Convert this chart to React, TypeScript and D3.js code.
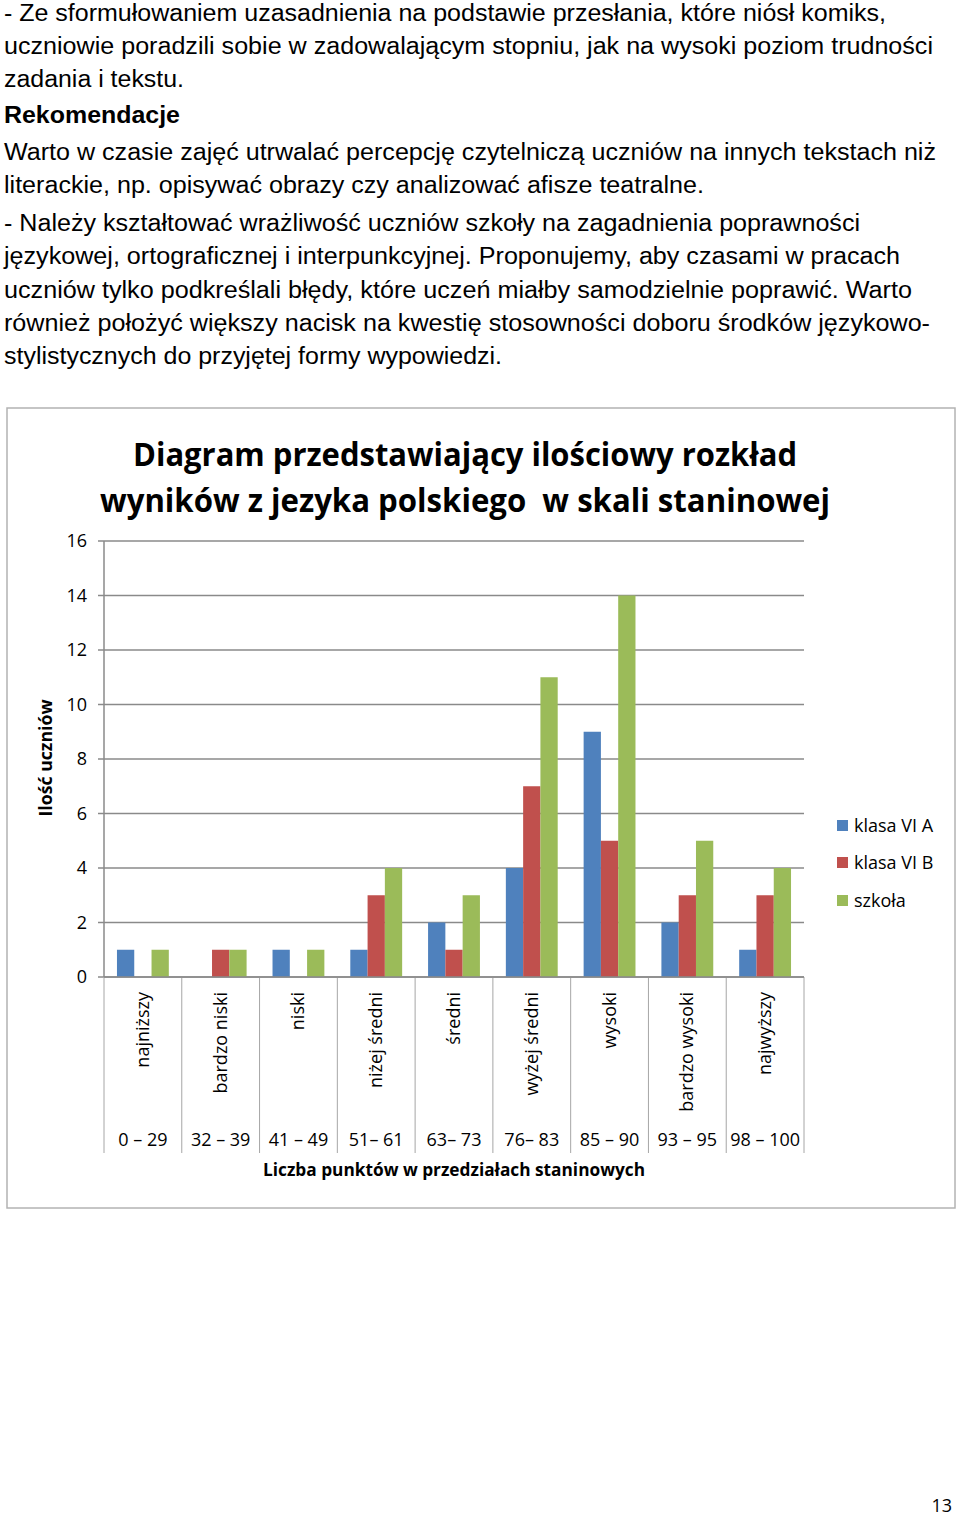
import React from "react";
import * as d3 from "d3";

const bodyLines = [
  "- Ze sformułowaniem uzasadnienia na podstawie przesłania, które niósł komiks,",
  "uczniowie poradzili sobie w zadowalającym stopniu, jak na wysoki poziom trudności",
  "zadania i tekstu.",
  "Rekomendacje",
  "Warto w czasie zajęć utrwalać percepcję czytelniczą uczniów na innych tekstach niż",
  "literackie, np. opisywać obrazy czy analizować afisze teatralne.",
  "- Należy kształtować wrażliwość uczniów szkoły na zagadnienia poprawności",
  "językowej, ortograficznej i interpunkcyjnej. Proponujemy, aby czasami w pracach",
  "uczniów tylko podkreślali błędy, które uczeń miałby samodzielnie poprawić. Warto",
  "również położyć większy nacisk na kwestię stosowności doboru środków językowo-",
  "stylistycznych do przyjętej formy wypowiedzi.",
];
const bodyBaselines = [21, 54, 87, 123, 160, 193, 231, 264, 298, 331, 364];
const bodyWidths = [882, 929, 180, 176, 932, 700, 856, 896, 908, 926, 498];
const boldLine = 3;

const titleLines = [
  "Diagram przedstawiający ilościowy rozkład",
  "wyników z jezyka polskiego  w skali staninowej",
];

const categories = [
  "najniższy",
  "bardzo niski",
  "niski",
  "niżej średni",
  "średni",
  "wyżej średni",
  "wysoki",
  "bardzo wysoki",
  "najwyższy",
];
const ranges = [
  "0 – 29",
  "32 – 39",
  "41 – 49",
  "51– 61",
  "63– 73",
  "76– 83",
  "85 – 90",
  "93 – 95",
  "98 – 100",
];
const seriesNames = ["klasa VI A", "klasa VI B", "szkoła"];
const klasaA = [1, 0, 1, 1, 2, 4, 9, 2, 1];
const klasaB = [0, 1, 0, 3, 1, 7, 5, 3, 3];
const szkola = [1, 1, 1, 4, 3, 11, 14, 5, 4];
const yTicks = [0, 2, 4, 6, 8, 10, 12, 14, 16];
const colors = ["#4F81BD", "#C0504D", "#9BBB59"];

const yTitle = "Ilość uczniów";
const xTitle = "Liczba punktów w przedziałach staninowych";
const pageNumber = "13";

export default function App() {
  const series = [klasaA, klasaB, szkola];
  const left = 104;
  const right = 804;
  const top = 541;
  const bottom = 977;
  const x = d3.scaleBand<string>().domain(categories).range([left, right]).paddingInner(0).paddingOuter(0);
  const xs = d3
    .scaleBand<string>()
    .domain(seriesNames)
    .range([0, x.bandwidth()])
    .paddingInner(0)
    .paddingOuter(0.75);
  const y = d3.scaleLinear().domain([0, 16]).range([bottom, top]);
  const chartFont = "'Open Sans', sans-serif";
  const dividers = categories.map((c) => x(c)!).concat([right]);

  return (
    <svg
      width={960}
      height={1518}
      style={{ position: "absolute", left: 0, top: 0, background: "#fff" }}
    >
      <rect x={0} y={0} width={960} height={1518} fill="#fff" />
      {bodyLines.map((t, i) => (
        <text
          key={i}
          x={4}
          y={bodyBaselines[i]}
          fontFamily="'Liberation Sans', Arial, sans-serif"
          fontSize={23}
          fontWeight={i === boldLine ? "bold" : "normal"}
          fill="#000"
          textLength={bodyWidths[i]}
          lengthAdjust="spacingAndGlyphs"
        >
          {t}
        </text>
      ))}

      <rect x={7} y={408} width={948} height={800} fill="#fff" stroke="#b3b3b3" strokeWidth={1.5} />

      {titleLines.map((t, i) => (
        <text
          key={i}
          x={465}
          y={[466, 512][i]}
          textAnchor="middle"
          fontFamily={chartFont}
          fontWeight="bold"
          fontSize={33}
          style={{ whiteSpace: "pre" }}
          textLength={[664, 730][i]}
          lengthAdjust="spacingAndGlyphs"
        >
          {t}
        </text>
      ))}

      {yTicks.map((t) => (
        <g key={t}>
          <line x1={98} x2={right} y1={y(t)} y2={y(t)} stroke="#8a8a8a" strokeWidth={1.5} />
          <text
            x={87}
            y={y(t)}
            dy="0.36em"
            textAnchor="end"
            fontFamily={chartFont}
            fontSize={18}
          >
            {t}
          </text>
        </g>
      ))}
      <line x1={left} x2={left} y1={top} y2={bottom} stroke="#8a8a8a" strokeWidth={1.5} />

      {series.map((vals, si) =>
        categories.map((c, ci) =>
          vals[ci] > 0 ? (
            <rect
              key={`${si}-${ci}`}
              x={x(c)! + xs(seriesNames[si])!}
              y={y(vals[ci])}
              width={xs.bandwidth()}
              height={bottom - y(vals[ci])}
              fill={colors[si]}
            />
          ) : null
        )
      )}

      {dividers.map((d, i) => (
        <line key={i} x1={d} x2={d} y1={bottom} y2={1153} stroke="#a6a6a6" strokeWidth={1} />
      ))}
      <line x1={left} x2={right} y1={bottom} y2={bottom} stroke="#8a8a8a" strokeWidth={1.5} />

      {categories.map((c) => (
        <text
          key={c}
          transform={`translate(${x(c)! + x.bandwidth() / 2 + 6},${992}) rotate(-90)`}
          textAnchor="end"
          fontFamily={chartFont}
          fontSize={18}
        >
          {c}
        </text>
      ))}
      {categories.map((c, i) => (
        <text
          key={`r${i}`}
          x={x(c)! + x.bandwidth() / 2}
          y={1146}
          textAnchor="middle"
          fontFamily={chartFont}
          fontSize={18}
        >
          {ranges[i]}
        </text>
      ))}

      <text
        x={454}
        y={1176}
        textAnchor="middle"
        fontFamily={chartFont}
        fontWeight="bold"
        fontSize={17}
        textLength={382}
        lengthAdjust="spacingAndGlyphs"
      >
        {xTitle}
      </text>
      <text
        transform={`translate(${52},${758}) rotate(-90)`}
        textAnchor="middle"
        fontFamily={chartFont}
        fontWeight="bold"
        fontSize={17}
        textLength={117}
        lengthAdjust="spacingAndGlyphs"
      >
        {yTitle}
      </text>

      {seriesNames.map((s, i) => (
        <g key={s} transform={`translate(837,${[820, 857, 895][i]})`}>
          <rect x={0} y={0} width={11} height={11} fill={colors[i]} />
          <text x={17} y={5.5} dy="0.36em" fontFamily={chartFont} fontSize={18}>
            {s}
          </text>
        </g>
      ))}

      <text x={952} y={1512} textAnchor="end" fontFamily={chartFont} fontSize={18}>
        {pageNumber}
      </text>
    </svg>
  );
}
